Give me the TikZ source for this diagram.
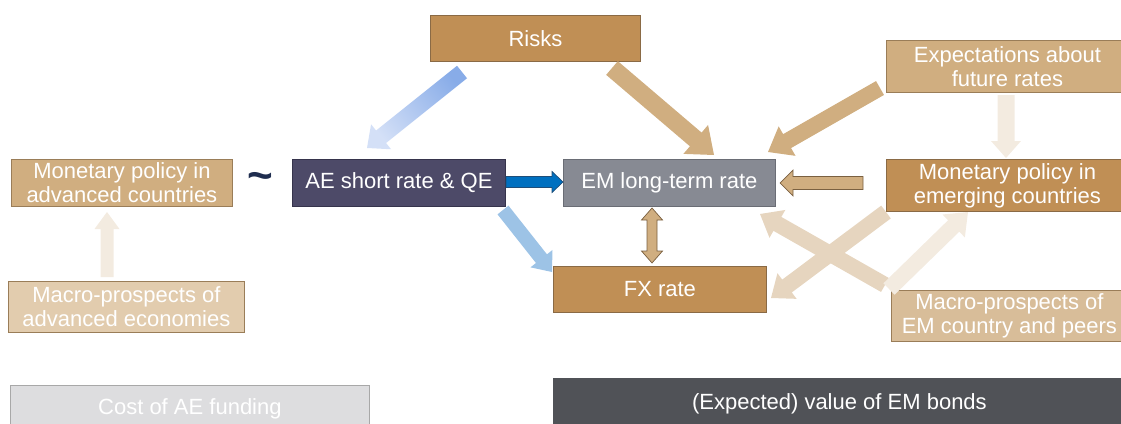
\documentclass[tikz,border=0pt]{standalone}
\usepackage{fontspec}
\setmainfont{Liberation Sans}
\usetikzlibrary{calc}

\definecolor{cBrown}{HTML}{C08F55}
\definecolor{cBrownLine}{HTML}{8A6A45}
\definecolor{cTan}{HTML}{D0AE80}
\definecolor{cTanLine}{HTML}{9A7D58}
\definecolor{cTanLight}{HTML}{E2CCAE}
\definecolor{cTanMid}{HTML}{D8BD99}
\definecolor{cPurple}{HTML}{4D4A68}
\definecolor{cPurpleLine}{HTML}{36344C}
\definecolor{cGray}{HTML}{878A93}
\definecolor{cGrayLine}{HTML}{6A6D75}
\definecolor{cPale}{HTML}{DDDDDF}
\definecolor{cPaleLine}{HTML}{A8A8A8}
\definecolor{cDark}{HTML}{505257}
\definecolor{cNavy}{HTML}{1F2D4F}
\definecolor{aBlue}{HTML}{0070C0}
\definecolor{aBlueLine}{HTML}{1F4E79}
\definecolor{aSky}{HTML}{9DC3E6}
\definecolor{aGradDark}{HTML}{88ACE8}
\definecolor{aGradLight}{HTML}{D4E0F7}
\definecolor{aFaint}{HTML}{F3EBE0}
\definecolor{aLight}{HTML}{E6D5BF}
\definecolor{aArrowLine}{HTML}{7A6040}

\tikzset{
  box/.style={rectangle, anchor=north west, inner sep=0pt, align=center,
    text=white, line width=0.8pt, font=\fontsize{22}{24}\selectfont},
}

% block arrow: style, start, tip, shaft half-width, head half-width, head length
\newcommand\fatarrow[6]{%
  \coordinate (faS) at #2;
  \coordinate (faE) at #3;
  \coordinate (faC) at ($(faE)!#6!(faS)$);
  \path[#1] ($(faS)!#4!90:(faE)$) -- ($(faC)!#4!-90:(faS)$)
    -- ($(faC)!#5!-90:(faS)$) -- (faE) -- ($(faC)!#5!90:(faS)$)
    -- ($(faC)!#4!90:(faS)$) -- ($(faS)!#4!-90:(faE)$) -- cycle;}

% block arrow with a head at both ends
\newcommand\fatdouble[6]{%
  \coordinate (fdA) at #2;
  \coordinate (fdB) at #3;
  \coordinate (fdCa) at ($(fdA)!#6!(fdB)$);
  \coordinate (fdCb) at ($(fdB)!#6!(fdA)$);
  \path[#1] (fdA) -- ($(fdCa)!#5!90:(fdB)$) -- ($(fdCa)!#4!90:(fdB)$)
    -- ($(fdCb)!#4!-90:(fdA)$) -- ($(fdCb)!#5!-90:(fdA)$) -- (fdB)
    -- ($(fdCb)!#5!90:(fdA)$) -- ($(fdCb)!#4!90:(fdA)$)
    -- ($(fdCa)!#4!-90:(fdB)$) -- ($(fdCa)!#5!-90:(fdB)$) -- cycle;}

\begin{document}
\begin{tikzpicture}[x=1pt,y=-1pt]
\useasboundingbox (0,0) rectangle (1121,423);
\clip (0,0) rectangle (1121,423);

% boxes
\node[box, fill=cBrown, draw=cBrownLine, minimum width=210pt, minimum height=46pt] (risks) at (430,15) {Risks};
\node[box, fill=cTan, draw=cTanLine, minimum width=242pt, minimum height=52pt] (expect) at (886,40) {Expectations about\\future rates};
\node[box, fill=cTan, draw=cTanLine, minimum width=221pt, minimum height=47pt] (mpae) at (11,159) {Monetary policy in\\advanced countries};
\node[text=cNavy, inner sep=0pt, font=\fontsize{44}{44}\selectfont\bfseries] (tilde) at (260.5,181) {\textasciitilde};
\node[box, fill=cPurple, draw=cPurpleLine, minimum width=213pt, minimum height=47pt] (ae) at (292,159) {AE short rate \& QE};
\node[box, fill=cGray, draw=cGrayLine, minimum width=212pt, minimum height=47pt] (eml) at (563,159) {EM long-term rate};
\node[box, fill=cBrown, draw=cBrownLine, minimum width=242pt, minimum height=52pt] (mpem) at (886,159) {Monetary policy in\\emerging countries};
\node[box, fill=cBrown, draw=cBrownLine, minimum width=213pt, minimum height=46pt] (fx) at (553,266) {FX rate};
\node[box, fill=cTanLight, draw=cTanLine, minimum width=236pt, minimum height=51pt] (macroae) at (8,281) {Macro-prospects of\\advanced economies};
\node[box, fill=cTanMid, draw=cTanLine, minimum width=236pt, minimum height=51pt] (macroem) at (891,290) {Macro-prospects of\\EM country and peers};
\node[box, fill=cPale, draw=cPaleLine, minimum width=359pt, minimum height=46pt] (cost) at (10,385) {Cost of AE funding};
\node[box, fill=cDark, draw=cDark, minimum width=572pt, minimum height=50pt] (value) at (553,378) {(Expected) value of EM bonds};

% arrow end points
\coordinate (rA) at (462,72);   \coordinate (rB) at (367,148);
\coordinate (rC) at (612,68);   \coordinate (rD) at (714,155);
\coordinate (eA) at (880,88);   \coordinate (eB) at (768,152);
\coordinate (eC) at (1006,95);  \coordinate (eD) at (1006,158);
\coordinate (mA) at (863,183);  \coordinate (mB) at (780,183);
\coordinate (aA) at (506,182);  \coordinate (aB) at (563,182);
\coordinate (aC) at (503,210);  \coordinate (aD) at (552,272);
\coordinate (lA) at (652,208);  \coordinate (lB) at (652,263);
\coordinate (pA) at (886,212);  \coordinate (pB) at (771,298);
\coordinate (qA) at (885,285);  \coordinate (qB) at (760,214);
\coordinate (sA) at (889,289);  \coordinate (sB) at (968,212);
\coordinate (vA) at (107,277);  \coordinate (vB) at (107,212);

% connectors
\fatarrow{bottom color=aGradLight, top color=aGradDark, shading angle=-50}{(rA)}{(rB)}{8pt}{16pt}{18pt}
\fatarrow{fill=cTan}{(rC)}{(rD)}{9pt}{19pt}{24pt}
\fatarrow{fill=cTan}{(eA)}{(eB)}{8pt}{17pt}{22pt}
\fatarrow{fill=aFaint}{(eC)}{(eD)}{8.5pt}{15pt}{17pt}
\fatarrow{fill=cTan, draw=aArrowLine, line width=0.7pt}{(mA)}{(mB)}{6.5pt}{13pt}{13pt}
\fatarrow{fill=aBlue, draw=aBlueLine, line width=0.7pt}{(aA)}{(aB)}{5.5pt}{10.5pt}{11pt}
\fatarrow{fill=aSky}{(aC)}{(aD)}{7pt}{14pt}{17pt}
\fatdouble{fill=cTan, draw=aArrowLine, line width=0.7pt}{(lA)}{(lB)}{5pt}{10.5pt}{12pt}
\fatarrow{fill=aLight}{(pA)}{(pB)}{8pt}{16pt}{20pt}
\fatarrow{fill=aLight}{(qA)}{(qB)}{8pt}{16pt}{20pt}
\fatarrow{fill=aFaint}{(sA)}{(sB)}{8pt}{16pt}{20pt}
\fatarrow{fill=aFaint}{(vA)}{(vB)}{6.5pt}{12.5pt}{17pt}
\end{tikzpicture}
\end{document}
